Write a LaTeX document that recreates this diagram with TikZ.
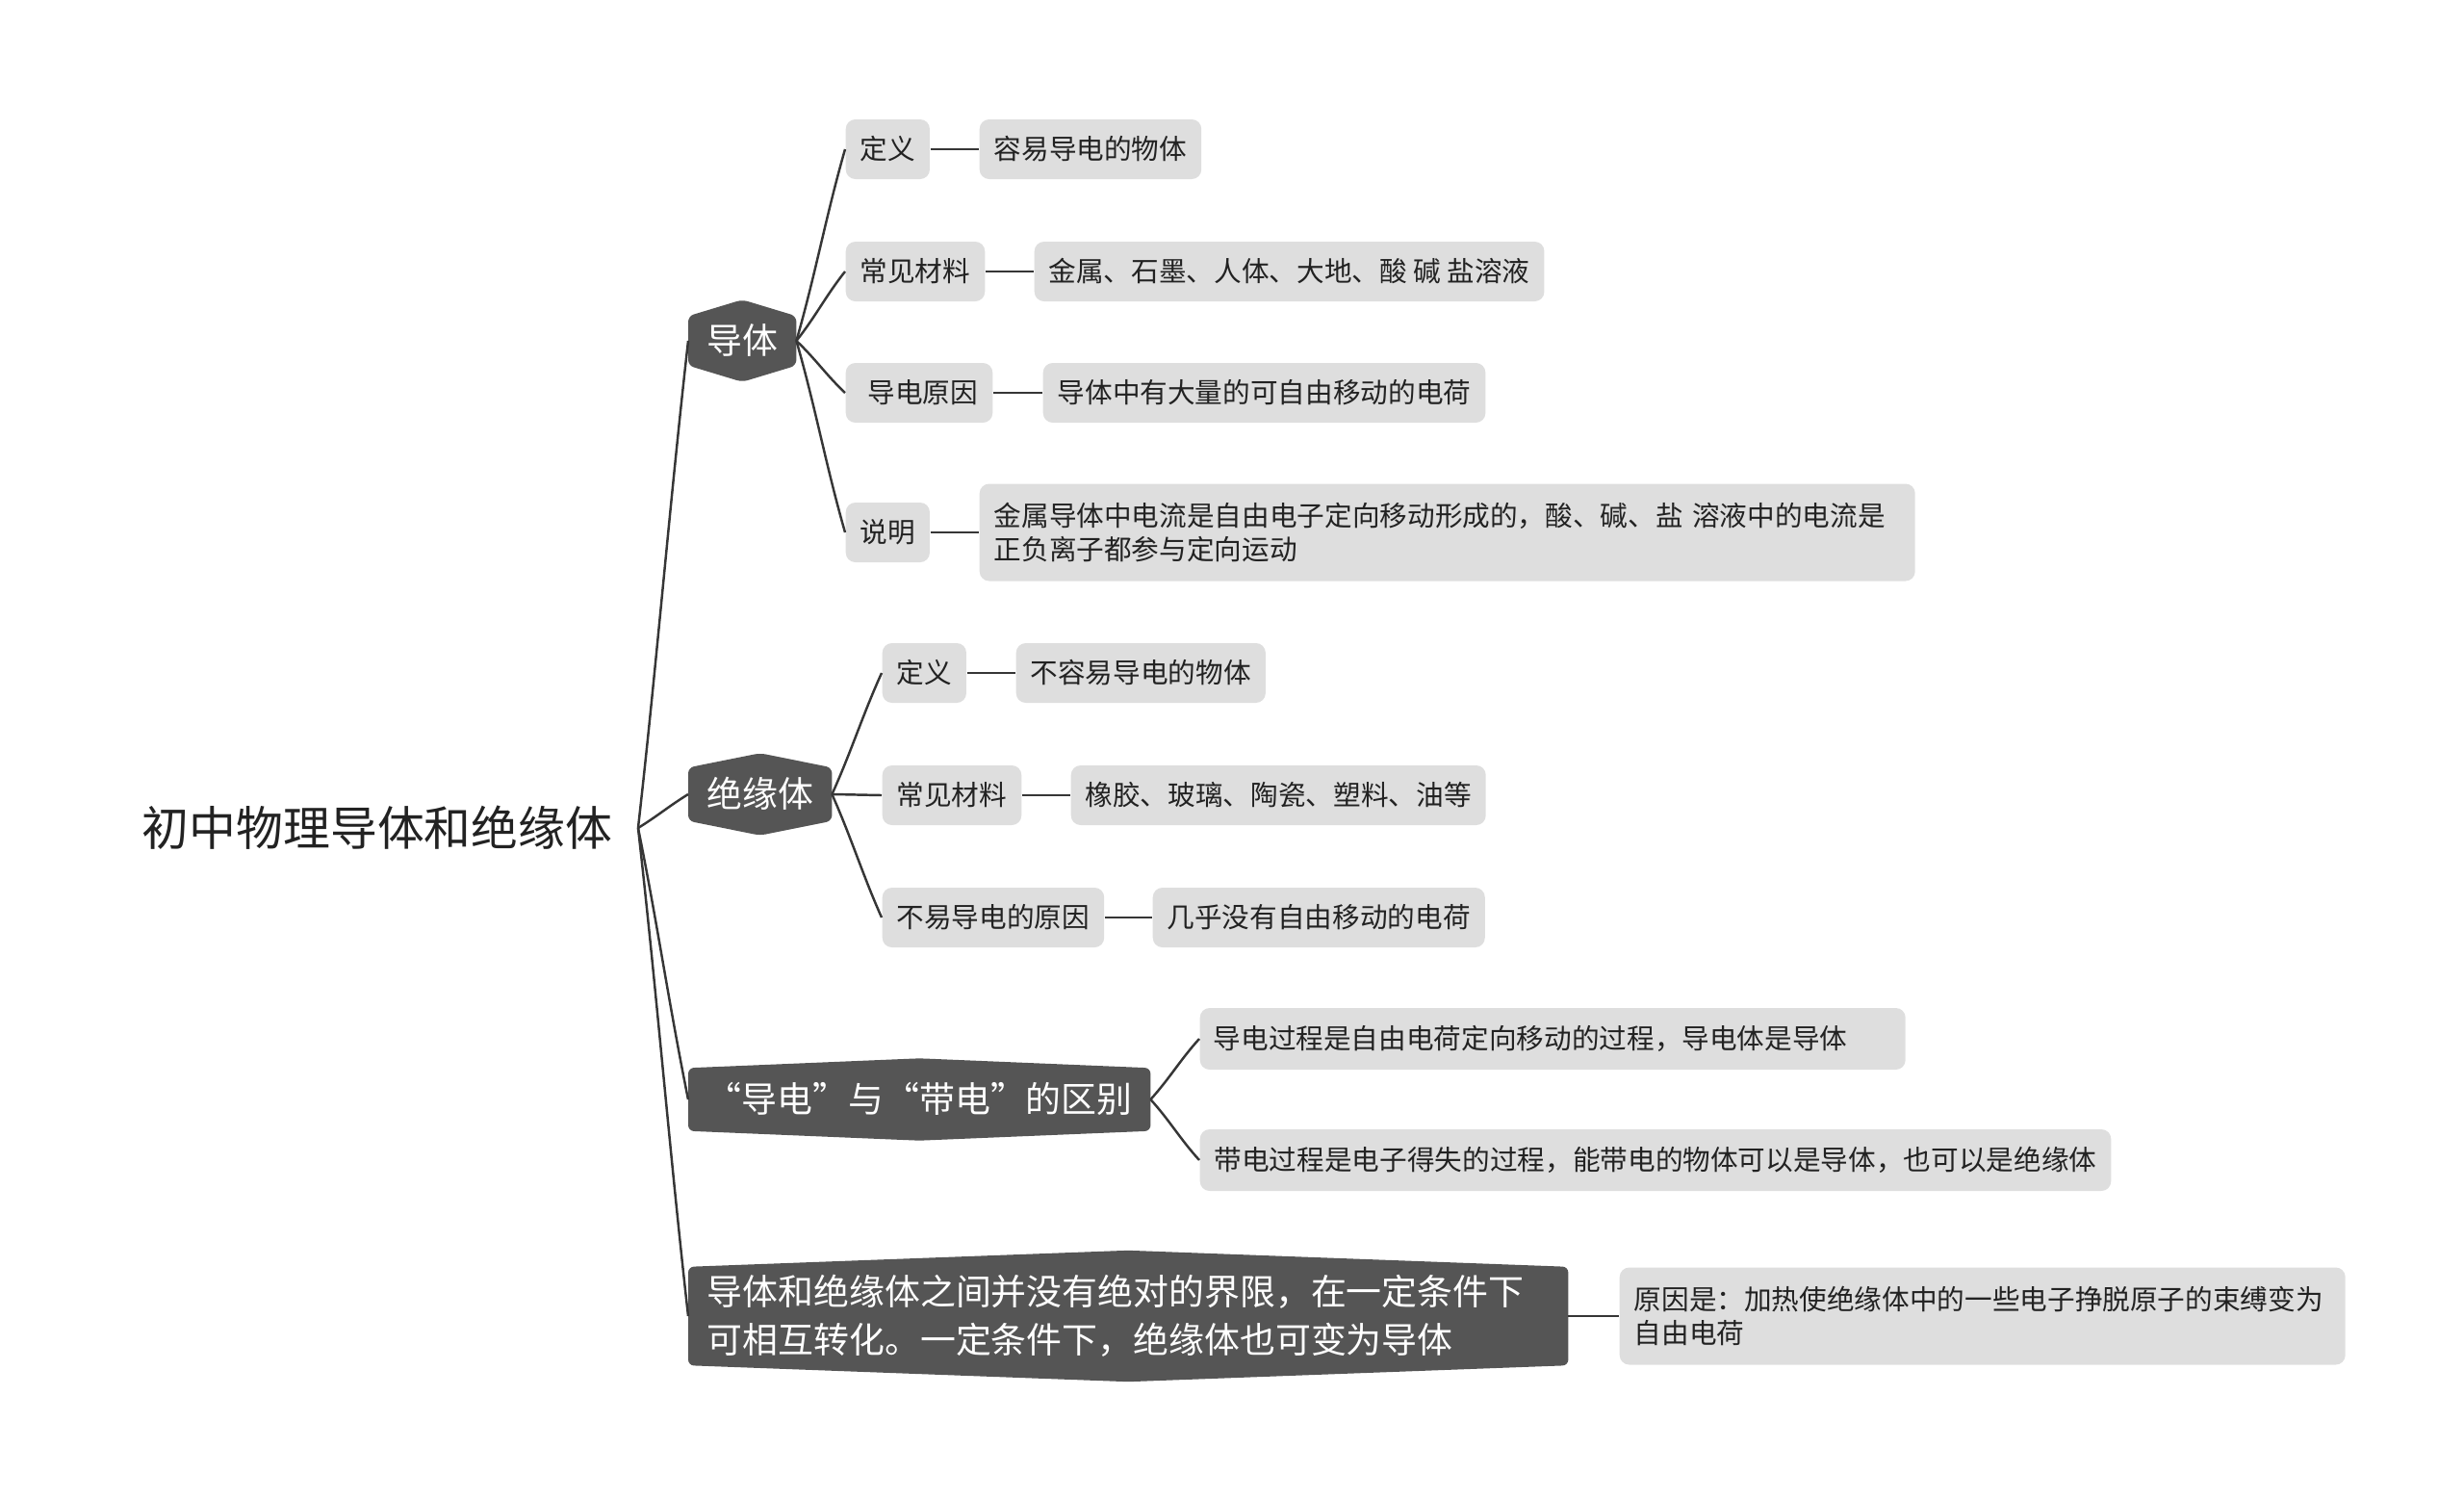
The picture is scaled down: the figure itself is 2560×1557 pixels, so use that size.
\documentclass[tikz,border=0pt]{standalone}
\usepackage{fontspec}
\setmainfont{Noto Sans CJK SC}
\usetikzlibrary{calc,backgrounds}

\definecolor{topicgray}{HTML}{555555}
\definecolor{boxgray}{HTML}{DEDEDE}
\definecolor{linegray}{HTML}{363636}
\definecolor{textdark}{HTML}{222222}

\tikzset{
    rootnode/.style={font=\fontsize{13.9pt}{16pt}\selectfont, text=textdark,
        inner xsep=2.6mm, inner ysep=0pt, text height=12.2pt, text depth=1.7pt},
    topic/.style={anchor=west, font=\fontsize{10.5pt}{14.2pt}\selectfont, text=white, inner sep=0pt},
    topicline/.style={topic, text height=9.2pt, text depth=1.3pt},
    leafbase/.style={anchor=west, fill=boxgray, rounded corners=1mm, text=textdark,
        font=\fontsize{8.15pt}{10pt}\selectfont, inner xsep=1.5mm, inner ysep=0pt, minimum height=6.2mm},
    leaf/.style={leafbase, text height=7.2pt, text depth=1pt},
    leafpar/.style={leafbase, align=left, minimum height=10.1mm},
    joint/.style={draw=linegray, line width=0.7pt},
    link/.style={joint,
        to path={let \p1=(\tikztostart), \p2=(\tikztotarget) in
            .. controls ({\x1+2mm},{0.65*(\y1)+0.35*(\y2)}) and ({\x2-2mm},{0.35*(\y1)+0.65*(\y2)}) .. (\tikztotarget)}}
}

% dark topic shape with pointed top and bottom
\newcommand\topicbox[2]{%
    \fill[topicgray, rounded corners=0.6mm] (#1.north west) -- ($(#1.north)+(0,-#2)$) -- (#1.north east)
        -- (#1.south east) -- ($(#1.south)+(0,#2)$) -- (#1.south west) -- cycle;}

\begin{document}
\begin{tikzpicture}[x=0.1mm, y=-0.1mm]
    \useasboundingbox (0,0) rectangle (2560,1557);

    \node[rootnode] (root) at (392,860) {初中物理导体和绝缘体};

    % main topics
    \node[topicline, minimum width=11.1mm, minimum height=5mm] (dt) at (715,354) {导体};
    \node[topicline, minimum width=14.8mm, minimum height=5.4mm] (jyt) at (715,825) {绝缘体};
    \node[topicline, minimum width=47.9mm, minimum height=6.4mm] (qb) at (715,1142) {“导电”与“带电”的区别};
    \node[topic, text width=87.5mm, inner xsep=1.9mm, minimum height=10.1mm, align=left] (zh) at (715,1367)
        {导体和绝缘体之间并没有绝对的界限，在一定条件下\\可相互转化。一定条件下，绝缘体也可变为导体};

    \begin{scope}[on background layer]
        \topicbox{dt}{17}
        \topicbox{jyt}{15}
        \topicbox{qb}{10}
        \topicbox{zh}{17}
    \end{scope}

    % 导体
    \node[leaf] (dt1) at (878,155) {定义};
    \node[leaf] (dt1v) at (1017,155) {容易导电的物体};
    \node[leaf] (dt2) at (878,282) {常见材料};
    \node[leaf] (dt2v) at (1074,282) {金属、石墨、人体、大地、酸 碱 盐溶液};
    \node[leaf] (dt3) at (878,408) {\hspace{0.8mm}导电原因};
    \node[leaf] (dt3v) at (1083,408) {导体中有大量的可自由移动的电荷};
    \node[leaf] (dt4) at (878,553) {说明};
    \node[leafpar, text width=94.2mm] (dt4v) at (1017,553)
        {金属导体中电流是自由电子定向移动形成的，酸、碱、盐 溶液中的电流是\\正负离子都参与定向运动};

    % 绝缘体
    \node[leaf] (jyt1) at (916,699) {定义};
    \node[leaf] (jyt1v) at (1055,699) {不容易导电的物体};
    \node[leaf] (jyt2) at (916,826) {常见材料};
    \node[leaf] (jyt2v) at (1112,826) {橡胶、玻璃、陶瓷、塑料、油等};
    \node[leaf] (jyt3) at (916,953) {不易导电的原因};
    \node[leaf] (jyt3v) at (1197,953) {几乎没有自由移动的电荷};

    % 区别
    \node[leaf, minimum height=6.4mm, text width=70.5mm, inner xsep=1.4mm, align=left] (qb1) at (1246,1079)
        {导电过程是自由电荷定向移动的过程，导电体是导体};
    \node[leaf, minimum height=6.4mm] (qb2) at (1246,1205)
        {带电过程是电子得失的过程，能带电的物体可以是导体，也可以是绝缘体};

    % 转化
    \node[leafpar, text width=72.4mm] (zh1) at (1682,1367)
        {原因是：加热使绝缘体中的一些电子挣脱原子的束缚变为\\自由电荷};

    \draw[link] (root.east) to (dt.west);
    \draw[link] (root.east) to (jyt.west);
    \draw[link] (root.east) to (qb.west);
    \draw[link] (root.east) to (zh.west);

    \draw[link] (dt.east) to (dt1.west);
    \draw[link] (dt.east) to (dt2.west);
    \draw[link] (dt.east) to (dt3.west);
    \draw[link] (dt.east) to (dt4.west);
    \draw[link] (jyt.east) to (jyt1.west);
    \draw[link] (jyt.east) to (jyt2.west);
    \draw[link] (jyt.east) to (jyt3.west);
    \draw[link] (qb.east) to (qb1.west);
    \draw[link] (qb.east) to (qb2.west);

    \draw[joint] (dt1) -- (dt1v);
    \draw[joint] (dt2) -- (dt2v);
    \draw[joint] (dt3) -- (dt3v);
    \draw[joint] (dt4) -- (dt4v);
    \draw[joint] (jyt1) -- (jyt1v);
    \draw[joint] (jyt2) -- (jyt2v);
    \draw[joint] (jyt3) -- (jyt3v);
    \draw[joint] (zh) -- (zh1);
\end{tikzpicture}
\end{document}
